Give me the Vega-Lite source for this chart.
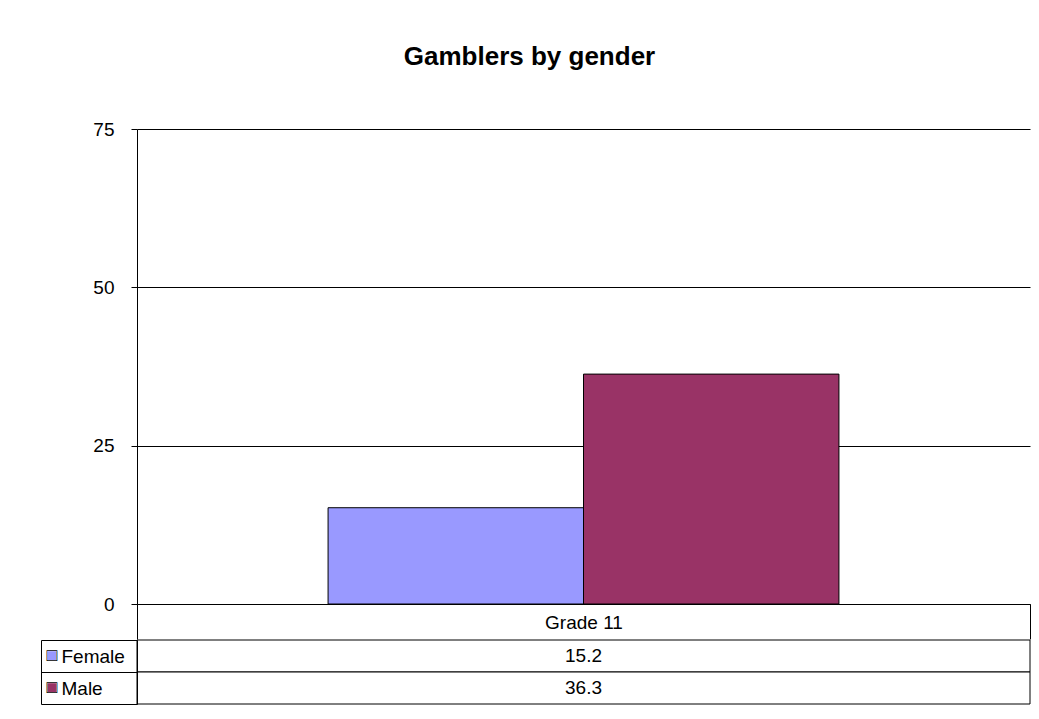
{
  "$schema": "https://vega.github.io/schema/vega-lite/v6.json",
  "data": {"values": [
    {"grade": "Grade 11", "gender": "Female", "value": 15.2},
    {"grade": "Grade 11", "gender": "Male", "value": 36.3}
  ]},
  "padding": {"left": 40, "top": 44, "right": 5, "bottom": 5},
  "title": {"text": "Gamblers by gender", "font": "Liberation Sans", "fontSize": 26, "fontWeight": "bold", "color": "black", "anchor": "middle", "dx": -6, "offset": 50},
  "spacing": -10,
  "vconcat": [
    {
      "width": 893,
      "height": 475,
      "mark": {"type": "bar", "stroke": "black", "strokeWidth": 1},
      "encoding": {
        "x": {"field": "grade", "type": "nominal", "scale": {"paddingInner": 0, "paddingOuter": 0},
          "axis": {"title": null, "orient": "bottom", "domain": true, "domainColor": "black", "ticks": true, "tickBand": "extent", "tickSize": 35, "tickColor": "black", "labelAngle": 0, "labelFontSize": 19, "labelColor": "black", "labelBaseline": "middle", "labelPadding": -17, "grid": false}},
        "xOffset": {"field": "gender", "type": "nominal", "scale": {"paddingInner": 0, "paddingOuter": 0.748}},
        "y": {"field": "value", "type": "quantitative", "scale": {"domain": [0, 75]},
          "axis": {"values": [0, 25, 50, 75], "title": null, "grid": true, "gridColor": "black", "gridOpacity": 1, "gridWidth": 1, "domainColor": "black", "tickColor": "black", "tickSize": 6, "labelFontSize": 19, "labelColor": "black", "labelPadding": 17}},
        "color": {"field": "gender", "type": "nominal", "scale": {"domain": ["Female", "Male"], "range": ["#9999FF", "#993366"]}, "legend": null}
      }
    },
    {
      "width": 893,
      "height": 64,
      "resolve": {"axis": {"y": "independent"}},
      "layer": [
        {
          "mark": {"type": "rect", "fill": "white", "stroke": "black", "strokeWidth": 1},
          "encoding": {
            "y": {"field": "gender", "type": "nominal", "scale": {"domain": ["Female", "Male"], "paddingInner": 0, "paddingOuter": 0},
              "axis": {"orient": "left", "title": null, "domainColor": "black", "tickBand": "extent", "tickSize": 96, "tickColor": "black", "labelAlign": "left", "labelPadding": -20, "labelFontSize": 19, "labelColor": "black", "labelBaseline": "middle"}}
          }
        },
        {
          "mark": {"type": "text", "fontSize": 19, "color": "black", "font": "Liberation Sans"},
          "encoding": {
            "y": {"field": "gender", "type": "nominal",
              "axis": {"orient": "left", "title": null, "offset": 96, "domainColor": "black", "ticks": false, "labelAlign": "left", "labelPadding": -5, "labelBaseline": "middle", "labelFontSize": 18, "labelExpr": "'■'",
                "labelColor": {"condition": {"test": "datum.value === 'Female'", "value": "#9999FF"}, "value": "#993366"}}},
            "text": {"field": "value", "type": "quantitative"}
          }
        },
        {
          "mark": {"type": "text", "fontSize": 19, "opacity": 0},
          "encoding": {
            "y": {"field": "gender", "type": "nominal",
              "axis": {"orient": "left", "title": null, "offset": 96, "domain": false, "ticks": false, "labelAlign": "left", "labelPadding": -5, "labelBaseline": "middle", "labelFontSize": 18, "labelExpr": "'□'", "labelColor": "black"}},
            "text": {"field": "value", "type": "quantitative"}
          }
        }
      ]
    }
  ],
  "config": {"view": {"stroke": null}, "font": "Liberation Sans", "background": "white"}
}
